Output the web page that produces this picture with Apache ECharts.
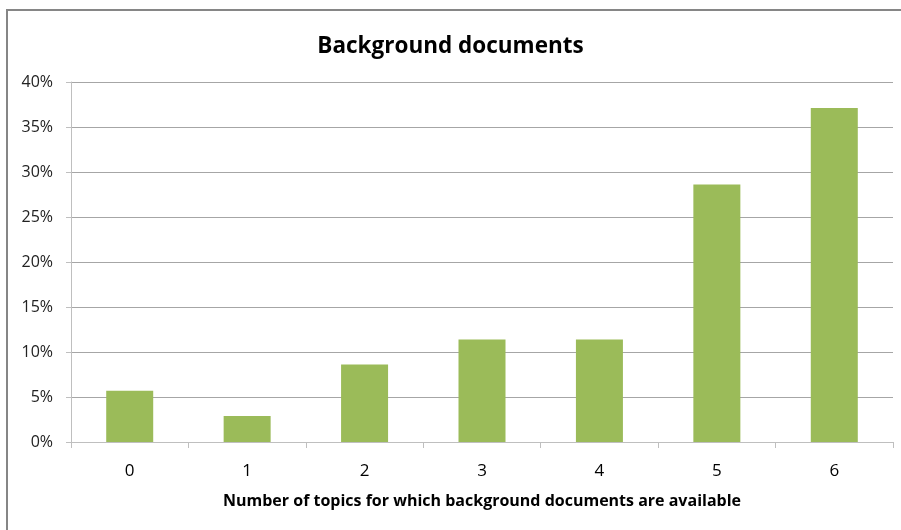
<!DOCTYPE html>
<html><head><meta charset="utf-8">
<script src="https://cdn.jsdelivr.net/npm/echarts@6/dist/echarts.min.js"></script>
<style>html,body{margin:0;padding:0;background:#fff;}#c{width:901px;height:530px;}</style>
</head><body><div id="c"></div>
<script>
const categories = ['0','1','2','3','4','5','6'];
const values = [0.057, 0.029, 0.086, 0.114, 0.114, 0.286, 0.371];
const yTicks = [0, 0.05, 0.10, 0.15, 0.20, 0.25, 0.30, 0.35, 0.40];
const titleText = 'Background documents';
const xAxisName = 'Number of topics for which background documents are available';

const chart = echarts.init(document.getElementById('c'), null, {renderer:'canvas'});
chart.setOption({
  backgroundColor:'#fff',
  animation:false,
  graphic:[{type:'rect', shape:{x:7,y:10,width:1000,height:1000}, style:{fill:'none',stroke:'#868686',lineWidth:2}}],
  title:{text:titleText,left:'center',top:30,textStyle:{fontFamily:'Open Sans',fontWeight:'bold',fontSize:22.5,color:'#000'}},
  grid:{left:71,top:82,right:8,bottom:88},
  xAxis:{type:'category',data:categories,boundaryGap:true,
    name:xAxisName,nameLocation:'middle',nameGap:51,
    nameTextStyle:{fontFamily:'Open Sans',fontWeight:'bold',fontSize:16,color:'#000'},
    axisLine:{lineStyle:{color:'#bfbfbf',width:1}},
    axisTick:{show:true,length:6,alignWithLabel:false,lineStyle:{color:'#bfbfbf'}},
    axisLabel:{fontFamily:'Open Sans',fontSize:17,color:'#000',margin:21}},
  yAxis:{type:'value',min:yTicks[0],max:yTicks[yTicks.length-1],interval:0.05,
    axisLine:{show:true,lineStyle:{color:'#bfbfbf'}},
    axisTick:{show:true,length:5,lineStyle:{color:'#bfbfbf'}},
    splitLine:{lineStyle:{color:'#a6a6a6',width:1}},
    axisLabel:{fontFamily:'Open Sans',fontSize:16,color:'#222',margin:18,
      formatter:v=>Math.round(v*100)+'%'}},
  series:[{type:'bar',data:values,barWidth:47,itemStyle:{color:'#9BBB59'}}]
});
</script></body></html>
